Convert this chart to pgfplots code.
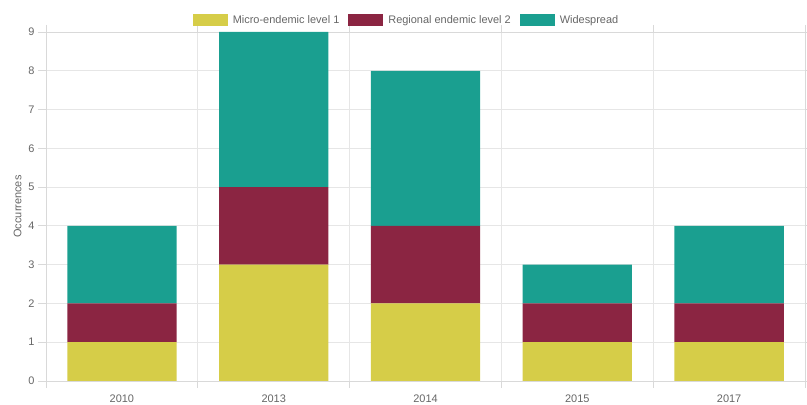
\documentclass[border=0pt]{standalone}
\usepackage{pgfplots}
\pgfplotsset{compat=1.18}
\usepackage{pgfplotstable}
\usepackage{fontspec}
\setmainfont{Liberation Sans}

\definecolor{micro}{RGB}{214,205,72}
\definecolor{regional}{RGB}{139,37,66}
\definecolor{wide}{RGB}{26,159,144}
\definecolor{txt}{RGB}{102,102,102}
\definecolor{gridc}{RGB}{230,230,230}

\pgfplotstableread{
x micro regional wide
0 1 1 2
1 3 2 4
2 2 2 4
3 1 1 1
4 1 1 2
}\occ

\begin{document}
\begin{tikzpicture}
\begin{axis}[%
width=759bp,
height=349bp,
scale only axis,
ybar stacked,
bar width=0.72,
xmin=-0.5, xmax=4.5,
ymin=0, ymax=9,
xtick={0,1,2,3,4},
xticklabels={2010,2013,2014,2015,2017},
minor xtick={-0.5,0.5,1.5,2.5,3.5,4.5},
ytick={0,1,...,9},
xminorgrids,
ymajorgrids,
grid style={gridc, line width=0.8pt},
minor grid style={gridc, line width=0.8pt},
axis line style={gray!30, line width=0.8pt},
tick align=outside,
major tick length=8bp,
minor tick length=7bp,
tick style={gray!30, line width=0.8pt},
major x tick style={draw=none},
tick label style={font=\fontsize{11}{13}\selectfont, text=txt},
/pgf/number format/assume math mode=true,
xticklabel style={yshift=-2bp},
ylabel={Occurrences},
ylabel style={font=\fontsize{11}{13}\selectfont, text=txt},
ylabel shift=0bp,
legend columns=3,
legend style={draw=none, fill=none, at={(axis description cs:0.475,1)}, anchor=south, yshift=3bp,
  font=\fontsize{11}{13}\selectfont, text=txt,
  /tikz/every odd column/.append style={column sep=3bp},
  /tikz/every even column/.append style={column sep=7bp}},
legend image code/.code={\fill[#1] (0bp,-6bp) rectangle (35bp,6bp);},
]
\addplot[fill=micro, draw=none] table[x=x, y=micro] {\occ};
\addplot[fill=regional, draw=none] table[x=x, y=regional] {\occ};
\addplot[fill=wide, draw=none] table[x=x, y=wide] {\occ};
\legend{Micro-endemic level 1, Regional endemic level 2, Widespread}
\end{axis}
\pgfresetboundingbox
\path[use as bounding box] ([shift={(-46bp,-24bp)}]current axis.south west) rectangle ([shift={(2bp,32bp)}]current axis.north east);
\end{tikzpicture}
\end{document}
